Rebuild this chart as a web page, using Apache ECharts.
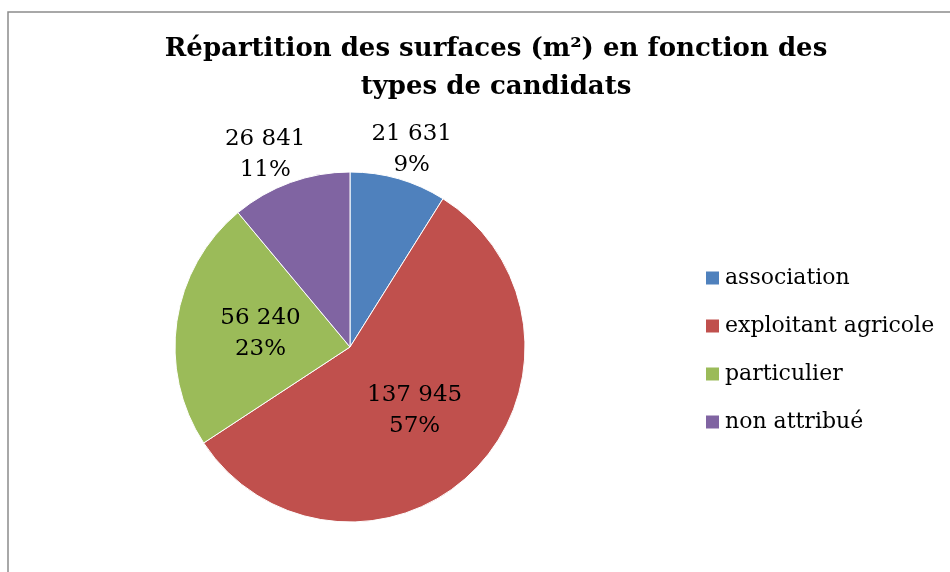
<!DOCTYPE html>
<html>
<head>
<meta charset="utf-8">
<script src="https://cdn.jsdelivr.net/npm/echarts@6/dist/echarts.min.js"></script>
<style>
html,body{margin:0;padding:0;background:#fff;}
#c{width:950px;height:572px;}
</style>
</head>
<body>
<div id="c"></div>
<script>
var categories = ['association', 'exploitant agricole', 'particulier', 'non attribué'];
var values = [21631, 137945, 56240, 26841];
var colors = ['#4F81BD', '#C0504D', '#9BBB59', '#8064A2'];
var labelPlacement = ['outside', 'inside', 'inside', 'outside'];
var titleText = 'Répartition des surfaces (m²) en fonction des\ntypes de candidats';

function fmt(v) {
  return String(v).replace(/\B(?=(\d{3})+(?!\d))/g, ' ');
}

var chart = echarts.init(document.getElementById('c'));
var data = categories.map(function (name, i) {
  return {
    name: name,
    value: values[i],
    itemStyle: { color: colors[i] },
    label: { position: labelPlacement[i] }
  };
});

chart.setOption({
  animation: false,
  backgroundColor: '#ffffff',
  graphic: [{
    type: 'rect',
    z: -1,
    shape: { x: 8, y: 12, width: 1200, height: 1200 },
    style: { fill: 'none', stroke: '#8c8c8c', lineWidth: 1.5 }
  }],
  title: {
    text: titleText,
    left: 496,
    top: 30,
    textAlign: 'center',
    padding: 0,
    textStyle: {
      fontFamily: 'DejaVu Serif',
      fontWeight: 'bold',
      fontSize: 26,
      lineHeight: 38,
      color: '#000'
    }
  },
  legend: {
    orient: 'vertical',
    left: 699,
    top: 262,
    itemWidth: 15,
    itemHeight: 15,
    itemGap: 26,
    icon: 'rect',
    data: categories,
    textStyle: {
      fontFamily: 'DejaVu Serif',
      fontSize: 22,
      lineHeight: 22,
      color: '#000'
    }
  },
  series: [{
    type: 'pie',
    center: [350, 347],
    radius: 175,
    startAngle: 90,
    clockwise: true,
    percentPrecision: 0,
    itemStyle: { borderColor: '#ffffff', borderWidth: 1 },
    label: {
      show: true,
      fontFamily: 'DejaVu Serif',
      fontSize: 23,
      lineHeight: 31,
      color: '#000',
      formatter: function (p) {
        return fmt(p.value) + '\n' + p.percent + '%';
      }
    },
    labelLine: { show: false, length: 30, length2: 0 },
    labelLayout: function (params) {
      return { align: 'center', dx: params.align === 'right' ? -10 : 0 };
    },
    emphasis: { disabled: true },
    data: data
  }]
});
</script>
</body>
</html>
